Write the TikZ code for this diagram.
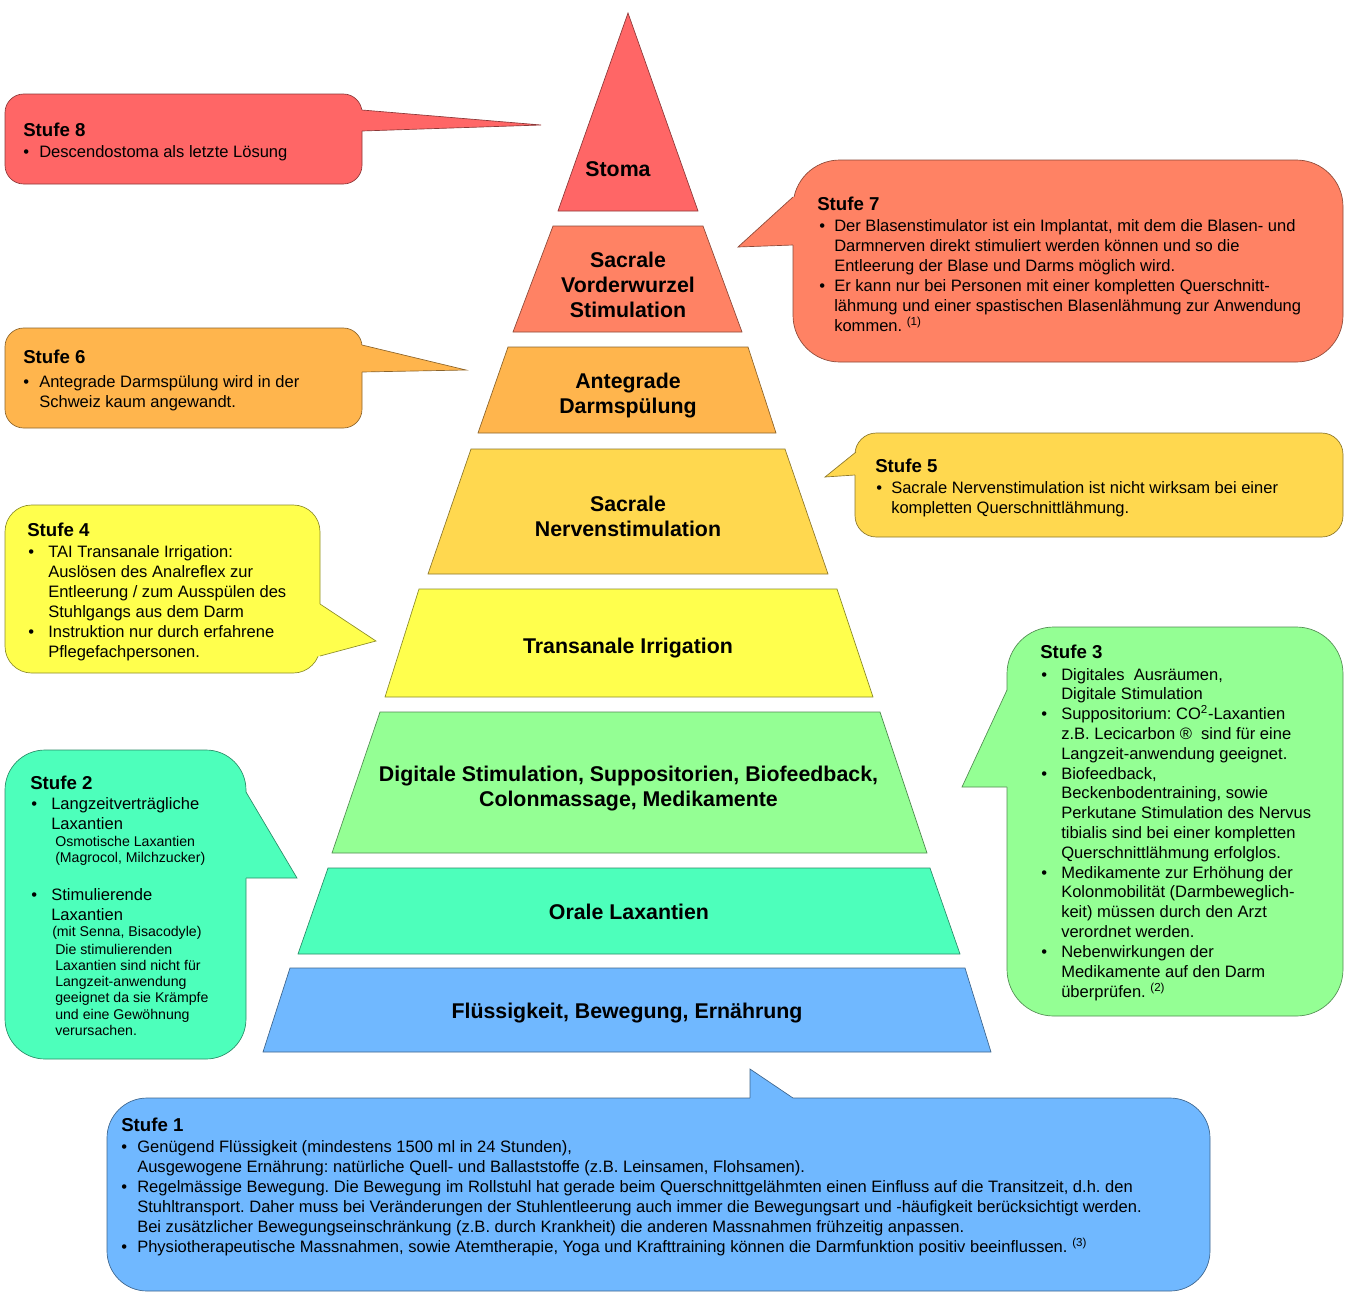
\documentclass[tikz,border=0pt]{standalone}
\usepackage{fontspec}
\setmainfont{Liberation Sans}
\usepackage{array}
\frenchspacing
\definecolor{c8}{HTML}{FF6666}
\definecolor{c7}{HTML}{FF8264}
\definecolor{c6}{HTML}{FFB54D}
\definecolor{c5}{HTML}{FFD84F}
\definecolor{c4}{HTML}{FFFF4D}
\definecolor{c3}{HTML}{94FF94}
\definecolor{c2}{HTML}{4DFFBB}
\definecolor{c1}{HTML}{70B8FF}
\newlength\bw
\newcommand\bitem{\makebox[\bw][l]{•}}
\newcommand\bcont{\hspace*{\bw}}
\tikzset{
  lay/.style={fill=#1, draw=#1!55!black, line width=0.5pt},
  bub/.style={fill=#1, draw=#1!55!black, line width=0.5pt},
  tailfill/.style={fill=#1},
  tailedge/.style={draw=#1!55!black, line width=0.5pt, line join=miter},
  ptext/.style={anchor=base, inner sep=0pt, font=\fontsize{16}{18.75}\selectfont\bfseries},
  head/.style={anchor=base west, inner sep=0pt, font=\fontsize{14}{15}\selectfont\bfseries},
  btext/.style={anchor=base west, inner sep=0pt, font=\fontsize{12.4}{15}\selectfont},
  stext/.style={anchor=base west, inner sep=0pt, font=\fontsize{10.6}{12.2}\selectfont},
}
\begin{document}
\begin{tikzpicture}[x=0.75pt,y=-0.75pt]
\useasboundingbox (0,0) rectangle (1350,1293);

% ---------------- pyramid layers ----------------
\filldraw[lay=c8] (628,13) -- (698,211) -- (558,211) -- cycle;
\filldraw[lay=c7] (553,226) -- (703,226) -- (742,332) -- (513,332) -- cycle;
\filldraw[lay=c6] (508,347) -- (748,347) -- (776,433) -- (478,433) -- cycle;
\filldraw[lay=c5] (471,449) -- (785,449) -- (828,574) -- (428,574) -- cycle;
\filldraw[lay=c4] (419,589) -- (837,589) -- (873,697) -- (385,697) -- cycle;
\filldraw[lay=c3] (380,712) -- (880,712) -- (927,853) -- (332,853) -- cycle;
\filldraw[lay=c2] (328,868) -- (930,868) -- (960,954) -- (298,954) -- cycle;
\filldraw[lay=c1] (290,968) -- (965,968) -- (991,1052) -- (263,1052) -- cycle;

\node[ptext] (p8) at (618,176.5) {Stoma};
\node[ptext] (p7) at (628,267.7) {\begin{tabular}[t]{@{}c@{}}Sacrale\\Vorderwurzel\\Stimulation\end{tabular}};
\node[ptext] (p6) at (628,388.3) {\begin{tabular}[t]{@{}c@{}}Antegrade\\Darmspülung\end{tabular}};
\node[ptext] (p5) at (628,511.7) {\begin{tabular}[t]{@{}c@{}}Sacrale\\Nervenstimulation\end{tabular}};
\node[ptext] (p4) at (628,653.5) {Transanale Irrigation};
\node[ptext] (p3) at (628.5,781.5) {\begin{tabular}[t]{@{}c@{}}Digitale Stimulation, Suppositorien, Biofeedback,\\Colonmassage, Medikamente\end{tabular}};
\node[ptext] (p2) at (629,919.5) {Orale Laxantien};
\node[ptext] (p1) at (627,1018.5) {Flüssigkeit, Bewegung, Ernährung};

% ---------------- Stufe 8 ----------------
\filldraw[bub=c8, rounded corners=14] (5,94) rectangle (362,184);
\fill[tailfill=c8] (355,110) -- (362,110) -- (541,125) -- (362,131) -- (355,131) -- cycle;
\draw[tailedge=c8] (362,110) -- (541,125) -- (362,131);
\node[head] (h8) at (23,136) {Stufe 8};
\setlength\bw{12pt}
\node[btext] (t8) at (23,157) {\begin{tabular}[t]{@{}l@{}}\bitem Descendostoma als letzte Lösung\end{tabular}};

% ---------------- Stufe 7 ----------------
\filldraw[bub=c7, rounded corners=35] (793,160) rectangle (1343,362);
\fill[tailfill=c7] (800,197) -- (793,197) -- (738,247) -- (793,245) -- (800,245) -- cycle;
\draw[tailedge=c7] (793,197) -- (738,247) -- (793,245);
\node[head] (h7) at (817,210) {Stufe 7};
\setlength\bw{11.25pt}
\node[btext] (t7) at (819,231) {\begin{tabular}[t]{@{}l@{}}
\bitem Der Blasenstimulator ist ein Implantat, mit dem die Blasen- und\\
\bcont Darmnerven direkt stimuliert werden können und so die\\
\bcont Entleerung der Blase und Darms möglich wird.\\
\bitem Er kann nur bei Personen mit einer kompletten Querschnitt-\\
\bcont lähmung und einer spastischen Blasenlähmung zur Anwendung\\
\bcont kommen. \textsuperscript{(1)}
\end{tabular}};

% ---------------- Stufe 6 ----------------
\filldraw[bub=c6, rounded corners=14] (5,328) rectangle (362,428);
\fill[tailfill=c6] (355,345) -- (362,345) -- (466,370) -- (362,372) -- (355,372) -- cycle;
\draw[tailedge=c6] (362,345) -- (466,370) -- (362,372);
\node[head] (h6) at (23,363.5) {Stufe 6};
\setlength\bw{12pt}
\node[btext] (t6) at (23,387) {\begin{tabular}[t]{@{}l@{}}
\bitem Antegrade Darmspülung wird in der\\
\bcont Schweiz kaum angewandt.
\end{tabular}};

% ---------------- Stufe 5 ----------------
\filldraw[bub=c5, rounded corners=16] (855,433) rectangle (1343,537);
\fill[tailfill=c5] (862,452) -- (856,452) -- (825,477) -- (855,475) -- (862,475) -- cycle;
\draw[tailedge=c5] (856,452) -- (825,477) -- (855,475);
\node[head] (h5) at (875,472.7) {Stufe 5};
\setlength\bw{11.25pt}
\node[btext] (t5) at (876,493.3) {\begin{tabular}[t]{@{}l@{}}
\bitem Sacrale Nervenstimulation ist nicht wirksam bei einer\\
\bcont kompletten Querschnittlähmung.
\end{tabular}};

% ---------------- Stufe 4 ----------------
\filldraw[bub=c4, rounded corners=20] (5,505) rectangle (320,673);
\fill[tailfill=c4] (313,604) -- (320,604) -- (376,641) -- (320,656) -- (313,656) -- cycle;
\draw[tailedge=c4] (320,604) -- (376,641) -- (320,656);
\node[head] (h4) at (27,536) {Stufe 4};
\setlength\bw{15pt}
\node[btext] (t4) at (28,557.5) {\begin{tabular}[t]{@{}l@{}}
\bitem TAI Transanale Irrigation:\\
\bcont Auslösen des Analreflex zur\\
\bcont Entleerung / zum Ausspülen des\\
\bcont Stuhlgangs aus dem Darm\\
\bitem Instruktion nur durch erfahrene\\
\bcont Pflegefachpersonen.
\end{tabular}};

% ---------------- Stufe 3 ----------------
\filldraw[bub=c3, rounded corners=35] (1007,627) rectangle (1343,1016);
\fill[tailfill=c3] (1014,690) -- (1007,690) -- (962,787) -- (1007,787) -- (1014,787) -- cycle;
\draw[tailedge=c3] (1007,690) -- (962,787) -- (1007,787);
\node[head] (h3) at (1040,658.5) {Stufe 3};
\setlength\bw{15pt}
\node[btext, font=\fontsize{12.4}{14.85}\selectfont] (t3) at (1041,680) {\begin{tabular}[t]{@{}l@{}}
\bitem Digitales\ \ Ausräumen,\\
\bcont Digitale Stimulation\\
\bitem Suppositorium: CO\textsuperscript{2}-Laxantien\\
\bcont z.B. Lecicarbon ®\ \ sind für eine\\
\bcont Langzeit-anwendung geeignet.\\
\bitem Biofeedback,\\
\bcont Beckenbodentraining, sowie\\
\bcont Perkutane Stimulation des Nervus\\
\bcont tibialis sind bei einer kompletten\\
\bcont Querschnittlähmung erfolglos.\\
\bitem Medikamente zur Erhöhung der\\
\bcont Kolonmobilität (Darmbeweglich-\\
\bcont keit) müssen durch den Arzt\\
\bcont verordnet werden.\\
\bitem Nebenwirkungen der\\
\bcont Medikamente auf den Darm\\
\bcont überprüfen. \textsuperscript{(2)}
\end{tabular}};

% ---------------- Stufe 2 ----------------
\filldraw[bub=c2, rounded corners=30] (5,750) rectangle (246,1059);
\fill[tailfill=c2] (239,792) -- (246,792) -- (297,878) -- (246,878) -- (239,878) -- cycle;
\draw[tailedge=c2] (246,792) -- (297,878) -- (246,878);
\node[head] (h2) at (30,789) {Stufe 2};
\setlength\bw{15pt}
\node[btext] (t2a) at (31,809) {\begin{tabular}[t]{@{}l@{}}
\bitem Langzeitverträgliche\\
\bcont Laxantien
\end{tabular}};
\node[stext] (t2b) at (55,846.5) {\begin{tabular}[t]{@{}l@{}}
Osmotische Laxantien\\
(Magrocol, Milchzucker)
\end{tabular}};
\node[btext] (t2c) at (31,900) {\begin{tabular}[t]{@{}l@{}}
\bitem Stimulierende\\
\bcont Laxantien
\end{tabular}};
\node[stext] (t2d) at (52,936.5) {(mit Senna, Bisacodyle)};
\node[stext] (t2e) at (55,954) {\begin{tabular}[t]{@{}l@{}}
Die stimulierenden\\
Laxantien sind nicht für\\
Langzeit-anwendung\\
geeignet da sie Krämpfe\\
und eine Gewöhnung\\
verursachen.
\end{tabular}};

% ---------------- Stufe 1 ----------------
\filldraw[bub=c1, rounded corners=30] (107,1098) rectangle (1210,1291);
\fill[tailfill=c1] (750,1105) -- (750,1098) -- (750,1069) -- (793,1098) -- (793,1105) -- cycle;
\draw[tailedge=c1] (750,1098) -- (750,1069) -- (793,1098);
\node[head] (h1) at (121,1131) {Stufe 1};
\setlength\bw{12pt}
\node[btext] (t1) at (121,1152) {\begin{tabular}[t]{@{}l@{}}
\bitem Genügend Flüssigkeit (mindestens 1500 ml in 24 Stunden),\\
\bcont Ausgewogene Ernährung: natürliche Quell- und Ballaststoffe (z.B. Leinsamen, Flohsamen).\\
\bitem Regelmässige Bewegung. Die Bewegung im Rollstuhl hat gerade beim Querschnittgelähmten einen Einfluss auf die Transitzeit, d.h. den\\
\bcont Stuhltransport. Daher muss bei Veränderungen der Stuhlentleerung auch immer die Bewegungsart und -häufigkeit berücksichtigt werden.\\
\bcont Bei zusätzlicher Bewegungseinschränkung (z.B. durch Krankheit) die anderen Massnahmen frühzeitig anpassen.\\
\bitem Physiotherapeutische Massnahmen, sowie Atemtherapie, Yoga und Krafttraining können die Darmfunktion positiv beeinflussen. \textsuperscript{(3)}
\end{tabular}};
\end{tikzpicture}
\end{document}
